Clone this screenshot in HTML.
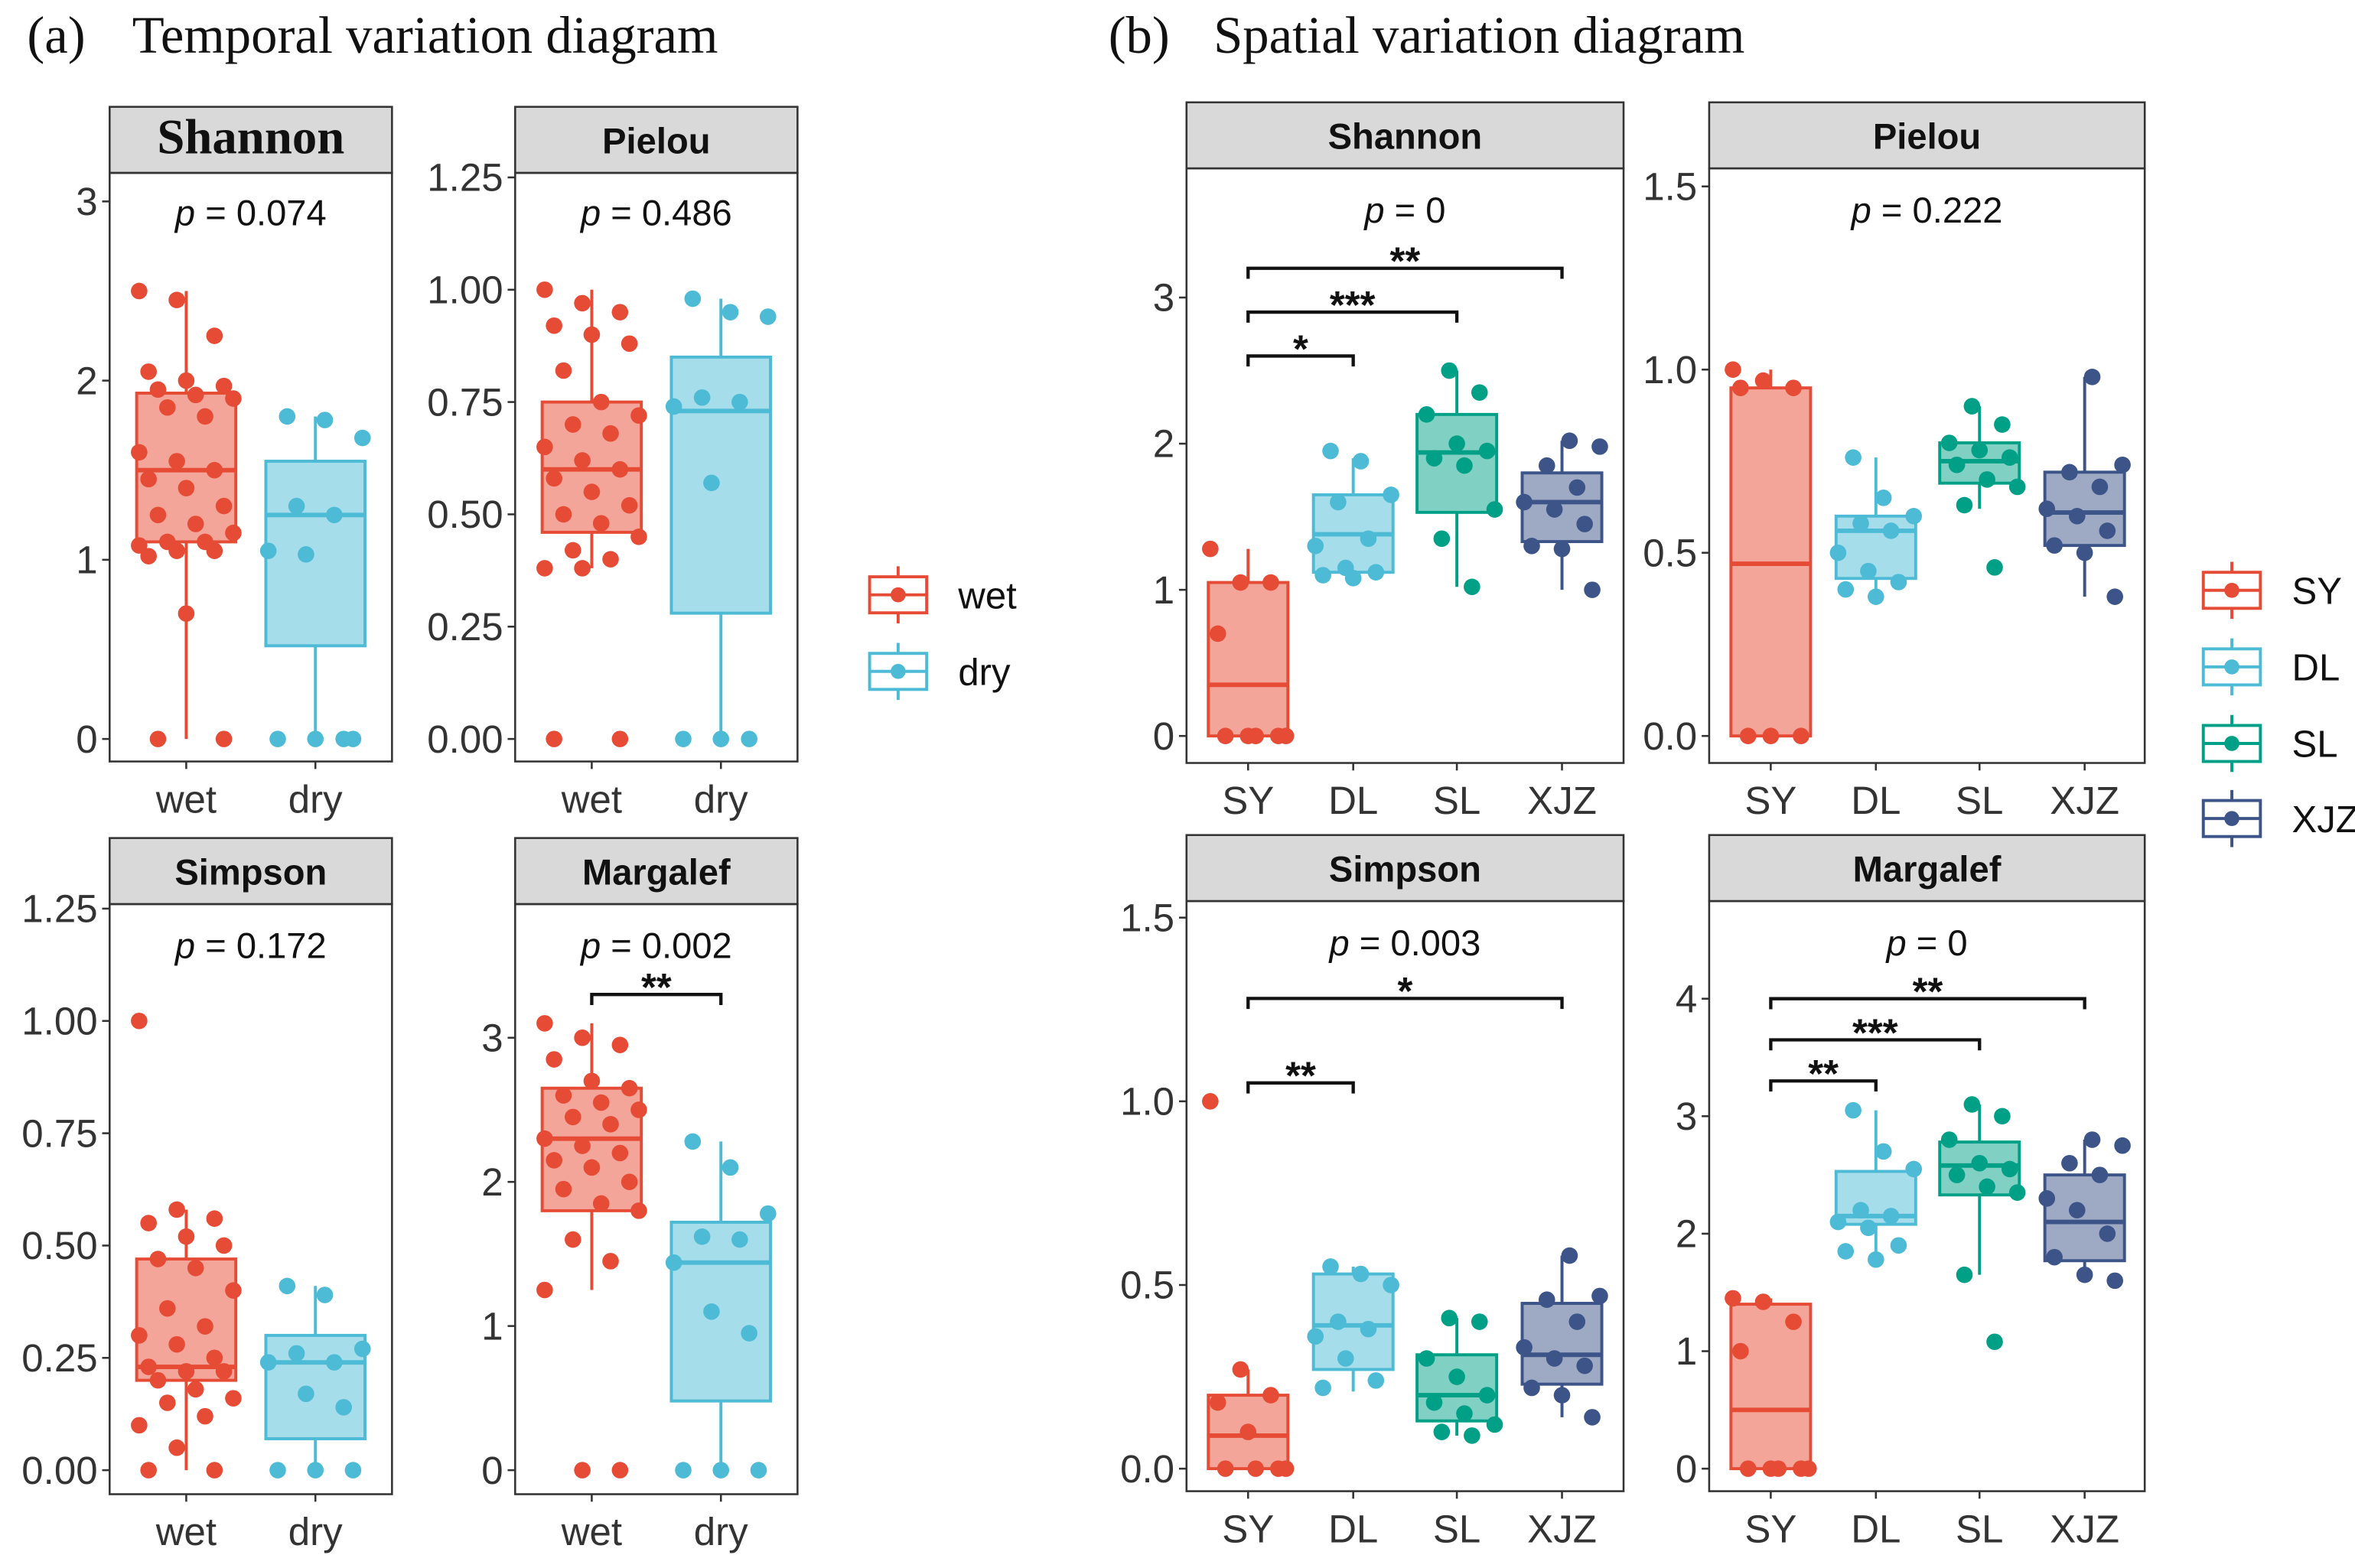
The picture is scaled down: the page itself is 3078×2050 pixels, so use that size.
<!DOCTYPE html>
<html><head><meta charset="utf-8"><style>
html,body{margin:0;padding:0;background:#fff;}
svg{display:block;}
</style></head><body>
<svg id="chart" xmlns="http://www.w3.org/2000/svg" width="3078" height="2050" viewBox="0 0 1568 1044">
<text x="18" y="35" font-family="Liberation Serif, serif" font-size="35" fill="#111">(a)</text>
<text x="88" y="35" font-family="Liberation Serif, serif" font-size="35" fill="#111">Temporal variation diagram</text>
<text x="738" y="35" font-family="Liberation Serif, serif" font-size="35" fill="#111">(b)</text>
<text x="808" y="35" font-family="Liberation Serif, serif" font-size="35" fill="#111">Spatial variation diagram</text>
</svg>
<script>
// ---- data ----
const groupsA = ["wet","dry"];
const groupsB = ["SY","DL","SL","XJZ"];
const colorsA = ["#E64B35","#4DBBD5"];
const colorsB = ["#E64B35","#4DBBD5","#00A087","#3C5488"];
// box stats [lowWhisker,q1,median,q3,highWhisker]
const aShannonBox = [[0,1.1,1.5,1.93,2.5],[0,0.52,1.25,1.55,1.8]];
const aShannonPts = [[2.5,2.45,2.25,2.05,2.0,1.97,1.95,1.92,1.9,1.85,1.8,1.6,1.55,1.5,1.45,1.4,1.3,1.25,1.2,1.15,1.1,1.1,1.08,1.05,1.05,1.02,0.7,0,0],[1.8,1.78,1.68,1.3,1.25,1.05,1.03,0,0,0,0]];
const aPielouBox = [[0.38,0.46,0.60,0.75,1.0],[0,0.28,0.73,0.85,0.98]];
const aPielouPts = [[1.0,0.97,0.95,0.92,0.9,0.88,0.82,0.75,0.72,0.7,0.68,0.65,0.62,0.6,0.58,0.55,0.52,0.5,0.48,0.45,0.42,0.4,0.38,0.38,0,0],[0.98,0.95,0.94,0.76,0.75,0.74,0.57,0,0,0]];
const aSimpsonBox = [[0,0.2,0.23,0.47,0.58],[0,0.07,0.24,0.30,0.41]];
const aSimpsonPts = [[1.0,0.58,0.56,0.55,0.52,0.5,0.47,0.45,0.4,0.36,0.32,0.3,0.28,0.25,0.23,0.22,0.22,0.2,0.18,0.16,0.15,0.12,0.1,0.05,0,0],[0.41,0.39,0.27,0.26,0.24,0.24,0.17,0.14,0,0,0]];
const aMargalefBox = [[1.25,1.8,2.3,2.65,3.1],[0,0.48,1.44,1.72,2.28]];
const aMargalefPts = [[3.1,3.0,2.95,2.85,2.7,2.65,2.6,2.55,2.5,2.45,2.4,2.3,2.25,2.2,2.15,2.1,2.0,1.95,1.85,1.8,1.6,1.45,1.25,0,0],[2.28,2.1,1.78,1.62,1.6,1.44,1.1,0.95,0,0,0]];
const bShannonBox = [[0,0,0.35,1.05,1.28],[1.05,1.12,1.38,1.65,1.9],[1.02,1.53,1.94,2.2,2.5],[1.0,1.33,1.6,1.8,2.02]];
const bShannonPts = [[1.28,1.05,1.05,0.7,0,0,0,0,0],[1.95,1.88,1.65,1.6,1.35,1.3,1.15,1.12,1.1,1.08],[2.5,2.35,2.2,2.0,1.95,1.9,1.85,1.55,1.35,1.02],[2.02,1.98,1.85,1.7,1.6,1.55,1.45,1.3,1.28,1.0]];
const bPielouBox = [[0,0,0.47,0.95,1.0],[0.38,0.43,0.56,0.6,0.76],[0.62,0.69,0.75,0.8,0.9],[0.38,0.52,0.61,0.72,0.98]];
const bPielouPts = [[1.0,0.97,0.95,0.95,0,0,0],[0.76,0.65,0.6,0.58,0.56,0.5,0.45,0.42,0.4,0.38],[0.9,0.85,0.8,0.78,0.76,0.74,0.7,0.68,0.63,0.46],[0.98,0.74,0.72,0.68,0.62,0.6,0.56,0.52,0.5,0.38]];
const bSimpsonBox = [[0,0,0.09,0.2,0.27],[0.21,0.27,0.39,0.53,0.55],[0.09,0.13,0.2,0.31,0.41],[0.14,0.23,0.31,0.45,0.58]];
const bSimpsonPts = [[1.0,0.27,0.2,0.18,0.1,0,0,0,0],[0.55,0.53,0.5,0.4,0.38,0.36,0.3,0.24,0.22],[0.41,0.4,0.3,0.25,0.2,0.18,0.15,0.12,0.1,0.09],[0.58,0.47,0.46,0.4,0.33,0.3,0.28,0.22,0.2,0.14]];
const bMargalefBox = [[0,0,0.5,1.4,1.45],[1.78,2.08,2.15,2.53,3.05],[1.65,2.33,2.58,2.78,3.1],[1.6,1.77,2.1,2.5,2.8]];
const bMargalefPts = [[1.45,1.42,1.25,1.0,0,0,0,0,0],[3.05,2.7,2.55,2.2,2.15,2.1,2.05,1.9,1.85,1.78],[3.1,3.0,2.8,2.6,2.55,2.5,2.4,2.35,1.65,1.08],[2.8,2.75,2.6,2.5,2.3,2.2,2.0,1.8,1.65,1.6]];
const ticksA1 = ["0","1","2","3"];
const ticksA2 = ["0.00","0.25","0.50","0.75","1.00","1.25"];
const ticksA4 = ["0","1","2","3"];
const ticksB1 = ["0","1","2","3"];
const ticksB2 = ["0.0","0.5","1.0","1.5"];
const ticksB4 = ["0","1","2","3","4"];
const pLabels = ["0.074","0.486","0.172","0.002","0","0.222","0.003","0"];
// significance: [groupFrom, groupTo, value, label]
const sigAMargalef = [[0,1,3.3,"**"]];
const sigBShannon = [[0,1,2.6,"*"],[0,2,2.9,"***"],[0,3,3.2,"**"]];
const sigBSimpson = [[0,1,1.05,"**"],[0,3,1.28,"*"]];
const sigBMargalef = [[0,1,3.3,"**"],[0,2,3.65,"***"],[0,3,4.0,"**"]];

const NS="http://www.w3.org/2000/svg";
const svg=document.getElementById('chart');
function mk(tag,attrs,parent){const e=document.createElementNS(NS,tag);for(const k in attrs)e.setAttribute(k,attrs[k]);(parent||svg).appendChild(e);return e;}
function lighten(c){const n=parseInt(c.slice(1),16);let r=n>>16,g=(n>>8)&255,b=n&255;r=Math.round(r+(255-r)*0.5);g=Math.round(g+(255-g)*0.5);b=Math.round(b+(255-b)*0.5);return `rgb(${r},${g},${b})`;}

function panel(o){
  const g=mk('g',{});
  
  
  const yS=v=>o.py0-(v-o.d0)/(o.d1-o.d0)*(o.py0-o.py1);
  const hdr=mk('rect',{x:o.x0,y:o.top,width:o.x1-o.x0,height:44,fill:'#D9D9D9',stroke:'#333','stroke-width':1.3},g);
  
  
  const st=mk('text',{x:(o.x0+o.x1)/2,y:o.top+31,'text-anchor':'middle','font-family':o.serif?'Liberation Serif, serif':'Liberation Sans, sans-serif','font-weight':'bold','font-size':o.serif?33:24,fill:'#111'},g);
  st.textContent=o.title;
  
  
  const fr=mk('rect',{x:o.x0,y:o.top+44,width:o.x1-o.x0,height:o.bottom-o.top-44,fill:'none',stroke:'#333','stroke-width':1.3},g);
  
  
  o.ticks.forEach(t=>{const y=yS(parseFloat(t));
    mk('line',{x1:o.x0-5,x2:o.x0,y1:y,y2:y,stroke:'#333','stroke-width':1.3},g);
    const tx=mk('text',{x:o.x0-8,y:y+9,'text-anchor':'end','font-family':'Liberation Sans, sans-serif','font-size':26,fill:'#333'},g);
    tx.textContent=t;
    
    
  });
  const xPos=i=>o.x0+o.offs[i];
  o.groups.forEach((gn,i)=>{const x=xPos(i);
    mk('line',{x1:x,x2:x,y1:o.bottom,y2:o.bottom+5,stroke:'#333','stroke-width':1.3},g);
    const tx=mk('text',{x:x,y:o.bottom+34,'text-anchor':'middle','font-family':'Liberation Sans, sans-serif','font-size':26,fill:'#333'},g);
    tx.textContent=gn;
    
    
    const b=o.box[i],c=o.colors[i],hw=o.bw/2;
    mk('line',{x1:x,x2:x,y1:yS(b[0]),y2:yS(b[1]),stroke:c,'stroke-width':2},g);
    mk('line',{x1:x,x2:x,y1:yS(b[3]),y2:yS(b[4]),stroke:c,'stroke-width':2},g);
    const r=mk('rect',{x:x-hw,y:yS(b[3]),width:o.bw,height:yS(b[1])-yS(b[3]),fill:lighten(c),stroke:c,'stroke-width':2},g);
    
    
    mk('line',{x1:x-hw,x2:x+hw,y1:yS(b[2]),y2:yS(b[2]),stroke:c,'stroke-width':3},g);
    o.pts[i].forEach((v,k)=>{const jx=(((k*37+i*13)%11)-5)/5*hw*0.95;
      const p=mk('circle',{cx:x+jx,cy:yS(v),r:5.5,fill:c},g);
      
      
    });
  });
  const pt=mk('text',{x:(o.x0+o.x1)/2,y:o.pY,'text-anchor':'middle','font-family':'Liberation Sans, sans-serif','font-size':24,fill:'#111'},g);
  pt.innerHTML='<tspan font-style="italic">p</tspan> = '+o.p;
  
  
  (o.sig||[]).forEach(s=>{const y=yS(s[2]),xa=xPos(s[0]),xb=xPos(s[1]);
    const br=mk('path',{d:`M${xa},${y+7}V${y}H${xb}V${y+7}`,fill:'none',stroke:'#111','stroke-width':2.2},g);
    
    
    const t=mk('text',{x:(xa+xb)/2,y:y+4,'text-anchor':'middle','font-family':'Liberation Sans, sans-serif','font-size':26,'font-weight':'bold',fill:'#111'},g);
    t.textContent=s[3];
    
    
  });
}
const offA=[51,137],offB=[41,111,180,250];
panel({name:'a-shannon',title:'Shannon',serif:true,x0:73,x1:261,top:71,bottom:507,py0:492,py1:134,d0:0,d1:3,ticks:ticksA1,groups:groupsA,colors:colorsA,offs:offA,bw:66,box:aShannonBox,pts:aShannonPts,p:pLabels[0],pY:150});
panel({name:'a-pielou',title:'Pielou',x0:343,x1:531,top:71,bottom:507,py0:492,py1:118,d0:0,d1:1.25,ticks:ticksA2,groups:groupsA,colors:colorsA,offs:offA,bw:66,box:aPielouBox,pts:aPielouPts,p:pLabels[1],pY:150});
panel({name:'a-simpson',title:'Simpson',x0:73,x1:261,top:558,bottom:995,py0:979,py1:605,d0:0,d1:1.25,ticks:ticksA2,groups:groupsA,colors:colorsA,offs:offA,bw:66,box:aSimpsonBox,pts:aSimpsonPts,p:pLabels[2],pY:638});
panel({name:'a-margalef',title:'Margalef',x0:343,x1:531,top:558,bottom:995,py0:979,py1:691,d0:0,d1:3,ticks:ticksA4,groups:groupsA,colors:colorsA,offs:offA,bw:66,box:aMargalefBox,pts:aMargalefPts,p:pLabels[3],pY:638,sig:sigAMargalef});
panel({name:'b-shannon',title:'Shannon',x0:790,x1:1081,top:68,bottom:508,py0:490,py1:198,d0:0,d1:3,ticks:ticksB1,groups:groupsB,colors:colorsB,offs:offB,bw:53,box:bShannonBox,pts:bShannonPts,p:pLabels[4],pY:148,sig:sigBShannon});
panel({name:'b-pielou',title:'Pielou',x0:1138,x1:1428,top:68,bottom:508,py0:490,py1:124,d0:0,d1:1.5,ticks:ticksB2,groups:groupsB,colors:colorsB,offs:offB,bw:53,box:bPielouBox,pts:bPielouPts,p:pLabels[5],pY:148});
panel({name:'b-simpson',title:'Simpson',x0:790,x1:1081,top:556,bottom:993,py0:978,py1:611,d0:0,d1:1.5,ticks:ticksB2,groups:groupsB,colors:colorsB,offs:offB,bw:53,box:bSimpsonBox,pts:bSimpsonPts,p:pLabels[6],pY:636,sig:sigBSimpson});
panel({name:'b-margalef',title:'Margalef',x0:1138,x1:1428,top:556,bottom:993,py0:978,py1:665,d0:0,d1:4,ticks:ticksB4,groups:groupsB,colors:colorsB,offs:offB,bw:53,box:bMargalefBox,pts:bMargalefPts,p:pLabels[7],pY:636,sig:sigBMargalef});

function legend(x,ys,labels,colors,name){
  labels.forEach((l,i)=>{const y=ys[i],c=colors[i];
    const g=mk('g',{});
    
    
    mk('line',{x1:x,x2:x,y1:y-19,y2:y+19,stroke:c,'stroke-width':2},g);
    mk('rect',{x:x-19,y:y-12,width:38,height:24,fill:'#fff',stroke:c,'stroke-width':2},g);
    mk('line',{x1:x-19,x2:x+19,y1:y,y2:y,stroke:c,'stroke-width':2},g);
    mk('circle',{cx:x,cy:y,r:5,fill:c},g);
    const t=mk('text',{x:x+40,y:y+9,'font-family':'Liberation Sans, sans-serif','font-size':25,fill:'#111'},g);
    t.textContent=l;
  });
}
legend(598,[396,447],groupsA,colorsA,'legend-a');
legend(1486,[393,444,495,545],groupsB,colorsB,'legend-b');
</script>
</body></html>
